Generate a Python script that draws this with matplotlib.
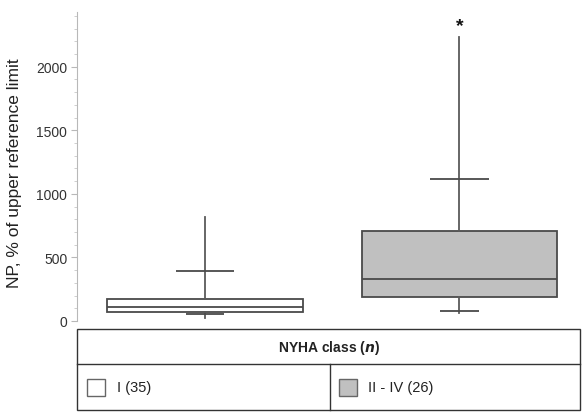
#!/usr/bin/env python3
"""Box plot of NP (% of upper reference limit) by NYHA class."""

import matplotlib
matplotlib.use("Agg")
import matplotlib.pyplot as plt
from matplotlib.patches import Rectangle
from matplotlib.lines import Line2D
from matplotlib.ticker import MultipleLocator

# values
GROUPS = ["I (35)", "II - IV (26)"]
MINS = [25, 60]
P10 = [55, 76]
Q1 = [68, 187]
MEDIANS = [108, 333]
Q3 = [173, 706]
P90 = [390, 1118]
MAXS = [815, 2234]
SIGNIF = ["", "*"]
FILLS = ["white", "#c0c0c0"]

YTICKS = [0, 500, 1000, 1500, 2000]

W, H = 582, 414
plt.rcParams["font.family"] = ["Liberation Sans", "DejaVu Sans"]

fig = plt.figure(figsize=(W / 100, H / 100), dpi=100)


def fx(px):
    return px / W


def fy(py):
    return 1 - py / H


ax = fig.add_axes([fx(77), fy(322), fx(580) - fx(77), fy(13) - fy(322)])

edge = "#4a4a4a"
positions = [1, 2]
stats = []
for i in range(len(GROUPS)):
    stats.append({
        "med": MEDIANS[i], "q1": Q1[i], "q3": Q3[i],
        "whislo": MINS[i], "whishi": MAXS[i], "fliers": [],
    })

bp = ax.bxp(stats, positions=positions, widths=0.77, showcaps=False,
            showfliers=False, patch_artist=True,
            boxprops=dict(edgecolor=edge, linewidth=1.3),
            medianprops=dict(color=edge, linewidth=1.3),
            whiskerprops=dict(color="#5a5a5a", linewidth=1.3))
for patch, c in zip(bp["boxes"], FILLS):
    patch.set_facecolor(c)
    patch.set_zorder(2)

# percentile marks (10th / 90th) drawn across the whisker line
ax.hlines(P10, [p - 0.076 for p in positions], [p + 0.076 for p in positions],
          color=edge, linewidth=1.3, zorder=3)
ax.hlines(P90, [p - 0.115 for p in positions], [p + 0.115 for p in positions],
          color=edge, linewidth=1.3, zorder=3)

for p, top, s in zip(positions, MAXS, SIGNIF):
    if s:
        ax.text(p, top + 25, s, ha="center", va="bottom", fontsize=14,
                fontweight="bold", color="#111111")

ax.set_xlim(0.497, 2.4735)
ax.set_ylim(0, 2430)
ax.set_yticks(YTICKS)
ax.yaxis.set_minor_locator(MultipleLocator(100))
ax.set_xticks([])
for side in ("top", "right", "bottom"):
    ax.spines[side].set_visible(False)
ax.spines["left"].set_color("#b8b8b8")
ax.tick_params(axis="y", which="major", length=4, color="#b8b8b8",
               labelsize=10, labelcolor="#333333", pad=3)
ax.tick_params(axis="y", which="minor", length=2, color="#c8c8c8")
ax.set_ylabel("NP, % of upper reference limit", fontsize=12.5, color="#222222")
ax.yaxis.set_label_coords(-0.11, 0.48)

# legend table under the plot
lc = "#333333"
lw = 1.0
x0, x1, xm = 77, 580, 330
y0, y1, ym = 330, 410.5, 364.5
fig.add_artist(Rectangle((fx(x0), fy(y1)), fx(x1) - fx(x0), fy(y0) - fy(y1),
                         transform=fig.transFigure, fill=False,
                         edgecolor=lc, linewidth=lw))
fig.add_artist(Line2D([fx(x0), fx(x1)], [fy(ym), fy(ym)],
                      transform=fig.transFigure, color=lc, linewidth=lw))
fig.add_artist(Line2D([fx(xm), fx(xm)], [fy(ym), fy(y1)],
                      transform=fig.transFigure, color=lc, linewidth=lw))
fig.text(fx(329), fy(348), "NYHA class ($\\mathbfit{n}$)", ha="center", va="center",
         fontsize=10, fontweight="bold", color="#222222")

swatch_x = [87, 339]
text_x = [117, 368]
for sx, tx, c, label in zip(swatch_x, text_x, FILLS, GROUPS):
    fig.add_artist(Rectangle((fx(sx), fy(396.5)), fx(sx + 17.5) - fx(sx),
                             fy(380) - fy(396.5), transform=fig.transFigure,
                             facecolor=c, edgecolor="#666666", linewidth=1.0))
    fig.text(fx(tx), fy(388), label, ha="left", va="center", fontsize=10.5,
             color="#222222")

fig.savefig("out.png", dpi=100)
